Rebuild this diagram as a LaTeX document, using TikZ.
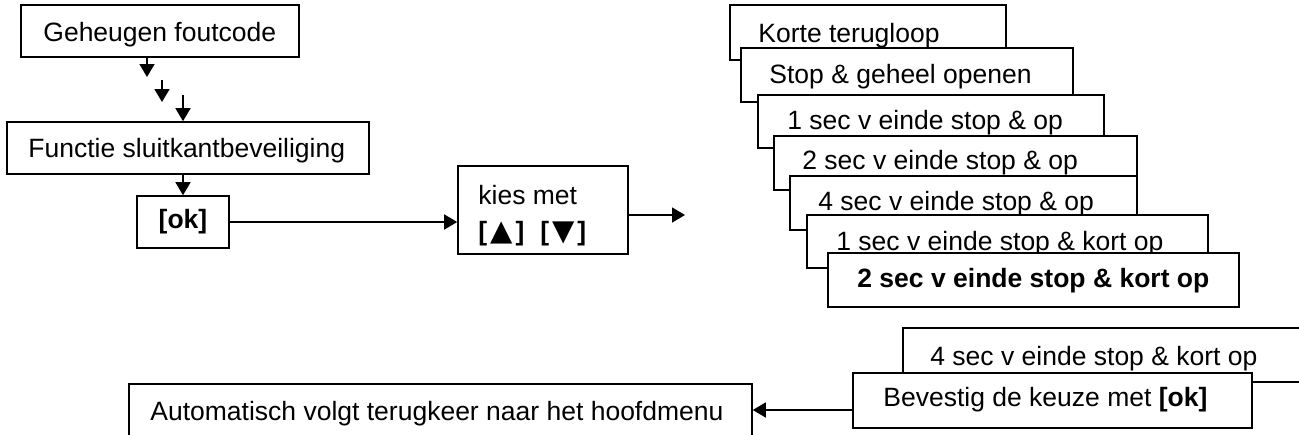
\documentclass[tikz,border=0pt]{standalone}
\usepackage{fontspec}
\setmainfont{Liberation Sans}
\newfontfamily\dejavu{DejaVu Sans}
\usetikzlibrary{arrows.meta,fit}
\tikzset{
  boxst/.style={draw=black, fill=white, line width=0.8pt, inner sep=0pt, fit={#1}},
  lbl/.style={anchor=base west, inner sep=0pt, font=\fontsize{13.25pt}{15pt}\selectfont},
  blbl/.style={lbl, font=\fontsize{13.25pt}{15pt}\selectfont\bfseries},
  clbl/.style={anchor=center, inner sep=0pt, font=\fontsize{13.25pt}{15pt}\selectfont\bfseries},
  arr/.style={line width=0.75pt, -{Triangle[length=6.5pt,width=7.5pt]}}
}
\newcommand\tri[1]{\hspace{1.5pt}{\dejavu\fontsize{14.5pt}{15pt}\selectfont #1}\hspace{1.5pt}}
\begin{document}
\begin{tikzpicture}[x=0.5pt,y=-0.5pt]
\useasboundingbox (0,0) rectangle (1299,434);
\clip (0,0) rectangle (1299,434);
% left column
\node[boxst={(21,5)(299,57)}] (geh) {};
\node[lbl] (tgeh) at (43,41) {Geheugen foutcode};
\node[boxst={(7,122)(369,174)}] (fun) {};
\node[lbl] (tfun) at (28,157) {Functie sluitkantbeveiliging};
\node[boxst={(137,196)(229,248)}] (ok) {};
\node[clbl] (tok) at (ok.center) {[ok]};
\node[boxst={(458,166)(628,254)}] (kies) {};
\node[lbl] (tkies1) at (478,204) {kies met};
\node[blbl] (tkies2) at (478,240) {[\tri{▲}]\hspace{8pt}[\tri{▼}]};
% stacked options
\node[boxst={(730,5)(1006,60)}] (s1) {};
\node[lbl] (ts1) at (758,42) {Korte terugloop};
\node[boxst={(741,48)(1073,102)}] (s2) {};
\node[lbl] (ts2) at (769,83) {Stop \& geheel openen};
\node[boxst={(758,95)(1104,148)}] (s3) {};
\node[lbl] (ts3) at (787,129) {1 sec v einde stop \& op};
\node[boxst={(774,136)(1137,190)}] (s4) {};
\node[lbl] (ts4) at (802,169) {2 sec v einde stop \& op};
\node[boxst={(790,176)(1137,230)}] (s5) {};
\node[lbl] (ts5) at (818,210) {4 sec v einde stop \& op};
\node[boxst={(807,215)(1208,268)}] (s6) {};
\node[lbl] (ts6) at (836,250) {1 sec v einde stop \& kort op};
\node[boxst={(828,253)(1239,307)}] (s7) {};
\node[blbl] (ts7) at (857,287) {2 sec v einde stop \& kort op};
\node[boxst={(903,328)(1330,382)}] (s8) {};
\node[lbl] (ts8) at (930,365) {4 sec v einde stop \& kort op};
\node[boxst={(853,373)(1252,428)}] (bev) {};
\node[lbl] (tbev) at (883,406) {Bevestig de keuze met \textbf{[ok]}};
\node[boxst={(129,384)(752,450)}] (auto) {};
\node[lbl] (tauto) at (150,420) {Automatisch volgt terugkeer naar het hoofdmenu};
% coordinates for free arrow ends
\coordinate (c1) at (147,77);
\coordinate (c2a) at (162,80);
\coordinate (c2b) at (162,102);
\coordinate (c3) at (183,95);
\coordinate (c5) at (685,215);
\coordinate (c6) at (800,410);
% connectors
\draw[arr] (geh.south -| c1) -- (c1);
\draw[arr] (c2a) -- (c2b);
\draw[arr] (c3) -- (c3 |- fun.north);
\draw[arr] (fun.south -| ok) -- (ok.north);
\draw[arr] (ok.east) -- (ok.east -| kies.west);
\draw[arr] (kies.east |- c5) -- (c5);
\draw[arr] (bev.west |- c6) -- (auto.east |- c6);
\end{tikzpicture}
\end{document}
